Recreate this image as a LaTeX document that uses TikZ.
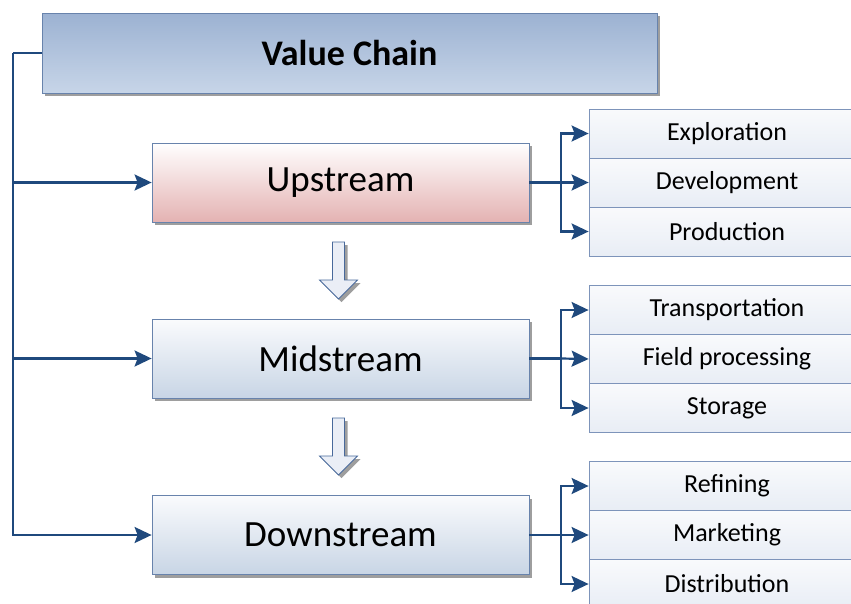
\documentclass[tikz,border=0pt]{standalone}
\usepackage{fontspec}
\setmainfont{Carlito}
\usetikzlibrary{arrows.meta,shadows}
\definecolor{linkblue}{RGB}{31,73,125}
\definecolor{edgeblue}{RGB}{104,131,172}
\definecolor{taskedge}{RGB}{125,148,186}
\definecolor{arrowedge}{RGB}{72,105,155}
\tikzset{
  boxshadow/.style={drop shadow={shadow xshift=3pt,shadow yshift=-3pt,fill=black!38,opacity=1}},
  chainbox/.style={draw=edgeblue,line width=0.8pt,inner sep=0pt,minimum width=615pt,minimum height=80pt,
    top color={rgb,255:red,156;green,178;blue,210},bottom color={rgb,255:red,199;green,213;blue,232},
    boxshadow,font=\fontsize{36}{43}\selectfont\bfseries},
  stagebox/.style={draw=edgeblue,line width=0.8pt,inner sep=0pt,minimum width=377pt,minimum height=79pt,
    top color={rgb,255:red,250;green,251;blue,253},bottom color={rgb,255:red,200;green,213;blue,229},
    boxshadow,font=\fontsize{37}{44}\selectfont},
  pinkstage/.style={top color=white,bottom color={rgb,255:red,228;green,178;blue,178}},
  taskbox/.style={draw=taskedge,line width=0.8pt,inner sep=0pt,minimum width=276pt,minimum height=49pt,
    top color={rgb,255:red,249;green,250;blue,252},bottom color={rgb,255:red,232;green,237;blue,245},
    font=\fontsize{26}{31}\selectfont},
  link/.style={draw=linkblue,line width=2.2pt},
  linkarrow/.style={link,-{Stealth[length=17pt,width=16pt,inset=3pt]}},
  hollowarrow/.style={draw=arrowedge,line width=0.8pt,fill={rgb,255:red,234;green,238;blue,246},boxshadow}
}
\begin{document}
\begin{tikzpicture}[x=1pt,y=1pt]
\clip (0,0) rectangle (851,-603);
% main boxes
\node [chainbox] (chain) at (349.5,-53) {Value Chain};
\node [stagebox,pinkstage] (up) at (340.5,-182.5) {Upstream};
\node [stagebox] (mid) at (340.5,-358.5) {Midstream};
\node [stagebox] (down) at (340.5,-535) {Downstream};
% upstream tasks
\node [taskbox] (upA) at (727,-133.5) {Exploration};
\node [taskbox] (upB) at (727,-182.5) {Development};
\node [taskbox] (upC) at (727,-231.5) {Production};
% midstream tasks
\node [taskbox] (midA) at (727,-310) {Transportation};
\node [taskbox] (midB) at (727,-359) {Field processing};
\node [taskbox] (midC) at (727,-408) {Storage};
% downstream tasks
\node [taskbox] (downA) at (727,-486) {Refining};
\node [taskbox] (downB) at (727,-535) {Marketing};
\node [taskbox] (downC) at (727,-584) {Distribution};
% hollow arrows between stages
\draw [hollowarrow] (332.5,-242) -- (344.5,-242) -- (344.5,-280) -- (357.5,-280) -- (338.5,-299) -- (319.5,-280) -- (332.5,-280) -- cycle;
\draw [hollowarrow] (332.5,-418) -- (344.5,-418) -- (344.5,-456) -- (357.5,-456) -- (338.5,-475) -- (319.5,-456) -- (332.5,-456) -- cycle;
% left spine
\coordinate (spine) at (13,-53);
\draw [link] (chain.west) -- (spine);
\draw [linkarrow] (spine) |- (down.west);
\draw [linkarrow] (spine |- up.west) -- (up.west);
\draw [linkarrow] (spine |- mid.west) -- (mid.west);
% right forks
\coordinate (upfork) at (561,-182.5);
\draw [link] (up.east) -- (upfork);
\draw [linkarrow] (upfork) |- (upA.west);
\draw [linkarrow] (upfork) -- (upB.west);
\draw [linkarrow] (upfork) |- (upC.west);
\coordinate (midfork) at (561,-358.5);
\draw [link] (mid.east) -- (midfork);
\draw [linkarrow] (midfork) |- (midA.west);
\draw [linkarrow] (midfork) -- (midB.west);
\draw [linkarrow] (midfork) |- (midC.west);
\coordinate (downfork) at (561,-535);
\draw [link] (down.east) -- (downfork);
\draw [linkarrow] (downfork) |- (downA.west);
\draw [linkarrow] (downfork) -- (downB.west);
\draw [linkarrow] (downfork) |- (downC.west);
\end{tikzpicture}
\end{document}
